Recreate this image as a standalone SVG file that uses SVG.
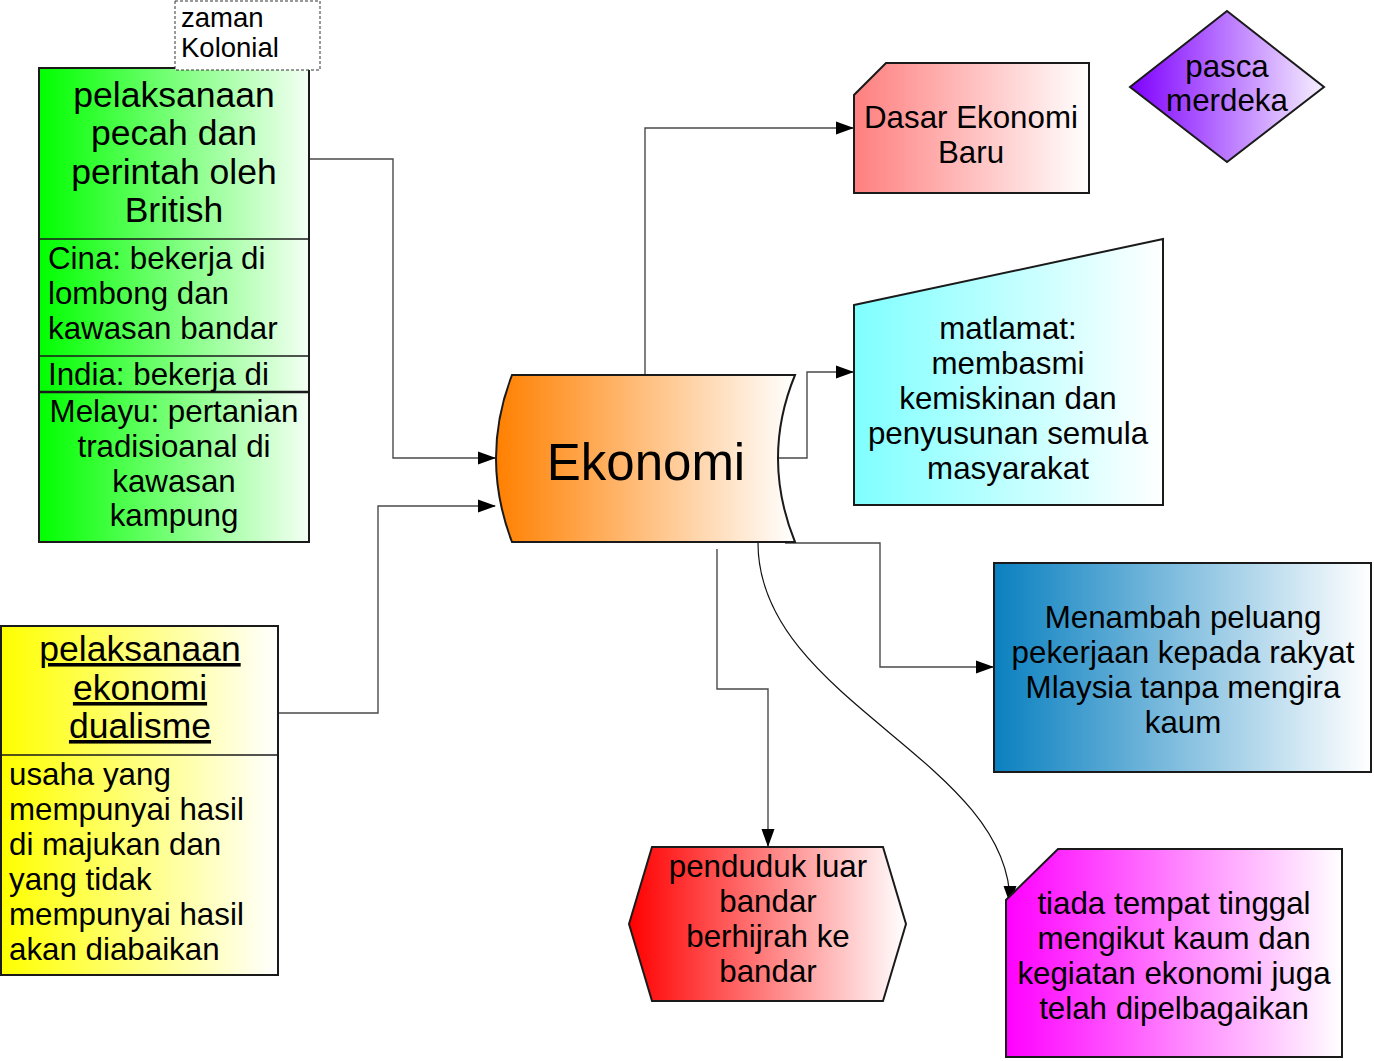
<svg xmlns="http://www.w3.org/2000/svg" width="1374" height="1061" viewBox="0 0 1374 1061">
<defs>
<linearGradient id="gGreen" x1="0" y1="0" x2="1" y2="0"><stop offset="0" stop-color="#00ff00"/><stop offset="1" stop-color="#f4fff4"/></linearGradient>
<linearGradient id="gYellow" x1="0" y1="0" x2="1" y2="0"><stop offset="0" stop-color="#ffff00"/><stop offset="1" stop-color="#ffffff"/></linearGradient>
<linearGradient id="gOrange" x1="0" y1="0" x2="1" y2="0"><stop offset="0" stop-color="#ff8000"/><stop offset="1" stop-color="#ffffff"/></linearGradient>
<linearGradient id="gSalmon" x1="0" y1="0" x2="1" y2="0"><stop offset="0" stop-color="#ff7f7f"/><stop offset="1" stop-color="#ffffff"/></linearGradient>
<linearGradient id="gPurple" x1="0" y1="0" x2="1" y2="0"><stop offset="0" stop-color="#7f00ff"/><stop offset="1" stop-color="#f6f0ff"/></linearGradient>
<linearGradient id="gCyan" x1="0" y1="0" x2="1" y2="0"><stop offset="0" stop-color="#7fffff"/><stop offset="1" stop-color="#ffffff"/></linearGradient>
<linearGradient id="gBlue" x1="0" y1="0" x2="1" y2="0"><stop offset="0" stop-color="#0a80c0"/><stop offset="1" stop-color="#ffffff"/></linearGradient>
<linearGradient id="gRed" x1="0" y1="0" x2="1" y2="0"><stop offset="0" stop-color="#ff0000"/><stop offset="1" stop-color="#ffffff"/></linearGradient>
<linearGradient id="gMagenta" x1="0" y1="0" x2="1" y2="0"><stop offset="0" stop-color="#ff00ff"/><stop offset="1" stop-color="#ffffff"/></linearGradient>
<marker id="arr" markerWidth="18" markerHeight="14" refX="17" refY="7" orient="auto" markerUnits="userSpaceOnUse"><path d="M0,0.5 L18,7 L0,13.5 Z" fill="#000"/></marker>
<style>
text{font-family:"Liberation Sans",Arial,sans-serif;fill:#000}
.shape{stroke:#1a1a1a;stroke-width:2}
.div{stroke:#1a1a1a;stroke-width:1.3;fill:none}
.t31{font-size:31.3px}
.t34{font-size:35.5px}
.c{text-anchor:middle}
.conn{fill:none;stroke:#4a4a4a;stroke-width:1.4}
.curve{fill:none;stroke:#111;stroke-width:1.2}
</style>
</defs>

<g id="connectors">
<path class="conn" d="M309,159 H393 V458 H495" marker-end="url(#arr)"/>
<path class="conn" d="M279,713 H378 V506 H495" marker-end="url(#arr)"/>
<path class="conn" d="M645,375 V128 H853" marker-end="url(#arr)"/>
<path class="conn" d="M778,458 H807 V372 H853" marker-end="url(#arr)"/>
<path class="conn" d="M785,543 H880 V667 H993" marker-end="url(#arr)"/>
<path class="conn" d="M717,549 V689 H768 V846" marker-end="url(#arr)"/>
<path class="curve" d="M758,543 C758,700 1010,760 1010,903" marker-end="url(#arr)"/>
</g>

<g id="node-green">
<rect class="shape" x="39" y="68" width="270" height="474" fill="url(#gGreen)"/>
<line class="div" x1="39" y1="239" x2="309" y2="239"/>
<line class="div" x1="39" y1="356" x2="309" y2="356"/>
<line class="div" x1="39" y1="392" x2="309" y2="392" style="stroke-width:2.5"/>
<text class="t34 c" x="174"><tspan x="174" y="107">pelaksanaan</tspan><tspan x="174" y="145">pecah dan</tspan><tspan x="174" y="184">perintah oleh</tspan><tspan x="174" y="222">British</tspan></text>
<text class="t31" x="48"><tspan x="48" y="269">Cina: bekerja di</tspan><tspan x="48" y="304">lombong dan</tspan><tspan x="48" y="339">kawasan bandar</tspan></text>
<text class="t31" x="48" y="385">India: bekerja di</text>
<text class="t31 c" x="174"><tspan x="174" y="422">Melayu: pertanian</tspan><tspan x="174" y="457">tradisioanal di</tspan><tspan x="174" y="492">kawasan</tspan><tspan x="174" y="526">kampung</tspan></text>
</g>

<g id="node-zaman">
<rect x="175" y="1" width="145" height="69" fill="#fff" stroke="#333" stroke-width="1" stroke-dasharray="3,2"/>
<text x="181" font-size="27.5"><tspan x="181" y="27">zaman</tspan><tspan x="181" y="57">Kolonial</tspan></text>
</g>

<g id="node-yellow">
<rect class="shape" x="1" y="626" width="277" height="349" fill="url(#gYellow)"/>
<line class="div" x1="1" y1="755" x2="278" y2="755"/>
<text class="t34 c" x="140" text-decoration="underline"><tspan x="140" y="661">pelaksanaan</tspan><tspan x="140" y="700">ekonomi</tspan><tspan x="140" y="738">dualisme</tspan></text>
<text class="t31" x="9"><tspan x="9" y="785">usaha yang</tspan><tspan x="9" y="820">mempunyai hasil</tspan><tspan x="9" y="855">di majukan dan</tspan><tspan x="9" y="890">yang tidak</tspan><tspan x="9" y="925">mempunyai hasil</tspan><tspan x="9" y="960">akan diabaikan</tspan></text>
</g>

<g id="node-ekonomi">
<path class="shape" d="M512,375 L795,375 Q761,458 795,542 L512,542 Q480,458 512,375 Z" fill="url(#gOrange)"/>
<text class="c" x="646" y="480" font-size="51">Ekonomi</text>
</g>

<g id="node-dasar">
<path class="shape" d="M886,63 H1089 V193 H854 V95 Z" fill="url(#gSalmon)"/>
<text class="t31 c" x="971"><tspan x="971" y="128">Dasar Ekonomi</tspan><tspan x="971" y="163">Baru</tspan></text>
</g>

<g id="node-pasca">
<path class="shape" d="M1227,11 L1324,87 L1227,162 L1130,87 Z" fill="url(#gPurple)"/>
<text class="t31 c" x="1227"><tspan x="1227" y="77">pasca</tspan><tspan x="1227" y="111">merdeka</tspan></text>
</g>

<g id="node-matlamat">
<path class="shape" d="M854,305 L1163,239 V505 H854 Z" fill="url(#gCyan)"/>
<text class="t31 c" x="1008"><tspan x="1008" y="339">matlamat:</tspan><tspan x="1008" y="374">membasmi</tspan><tspan x="1008" y="409">kemiskinan dan</tspan><tspan x="1008" y="444">penyusunan semula</tspan><tspan x="1008" y="479">masyarakat</tspan></text>
</g>

<g id="node-menambah">
<rect class="shape" x="994" y="563" width="377" height="209" fill="url(#gBlue)"/>
<text class="t31 c" x="1183"><tspan x="1183" y="628">Menambah peluang</tspan><tspan x="1183" y="663">pekerjaan kepada rakyat</tspan><tspan x="1183" y="698">Mlaysia tanpa mengira</tspan><tspan x="1183" y="733">kaum</tspan></text>
</g>

<g id="node-penduduk">
<path class="shape" d="M629,924 L652,847 H883 L906,924 L883,1001 H652 Z" fill="url(#gRed)"/>
<text class="t31 c" x="768"><tspan x="768" y="877">penduduk luar</tspan><tspan x="768" y="912">bandar</tspan><tspan x="768" y="947">berhijrah ke</tspan><tspan x="768" y="982">bandar</tspan></text>
</g>

<g id="node-tiada">
<path class="shape" d="M1058,849 H1342 V1057 H1006 V900 Z" fill="url(#gMagenta)"/>
<text class="t31 c" x="1174"><tspan x="1174" y="914">tiada tempat tinggal</tspan><tspan x="1174" y="949">mengikut kaum dan</tspan><tspan x="1174" y="984">kegiatan ekonomi juga</tspan><tspan x="1174" y="1019">telah dipelbagaikan</tspan></text>
</g>
</svg>
